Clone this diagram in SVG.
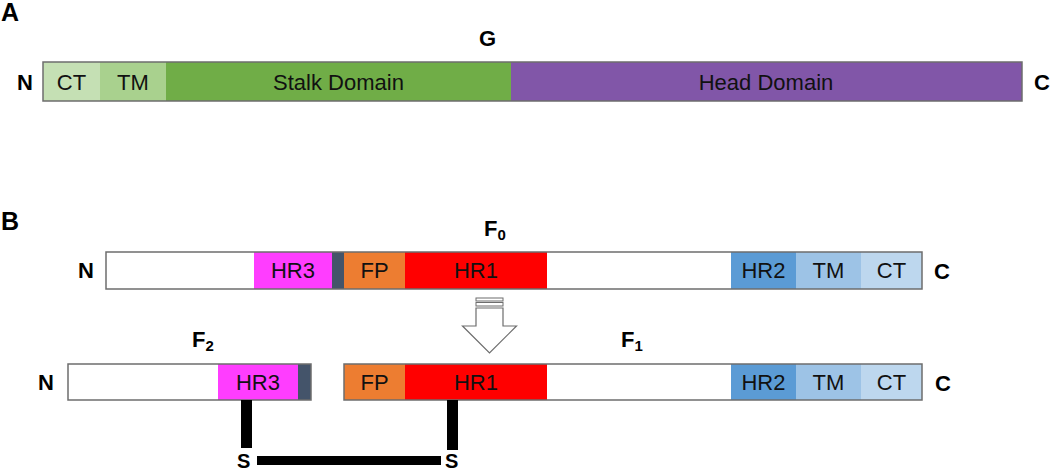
<svg xmlns="http://www.w3.org/2000/svg" width="1050" height="473" viewBox="0 0 1050 473">
<style>
.t{font-family:"Liberation Sans",Arial,sans-serif;font-size:22px;fill:#111;text-anchor:middle}
.b{font-family:"Liberation Sans",Arial,sans-serif;font-weight:bold;font-size:22px;fill:#000}
.p{font-family:"Liberation Sans",Arial,sans-serif;font-weight:bold;font-size:25px;fill:#000}
.s{font-family:"Liberation Sans",Arial,sans-serif;font-weight:bold;font-size:20px;fill:#000}
.sub{font-size:15px}
.out{fill:none;stroke:#6d6d6d;stroke-width:1.5}
.bar{fill:#000}
</style>
<text class="p" x="1" y="21">A</text>
<text class="p" x="1" y="230">B</text>

<g id="G-protein">
<rect x="43" y="62" width="57" height="39" fill="#c5e0b4"/>
<rect x="100" y="62" width="66" height="39" fill="#a9d18e"/>
<rect x="166" y="62" width="345" height="39" fill="#70ad47"/>
<rect x="511" y="62" width="511" height="39" fill="#8156a8"/>
<rect class="out" x="43" y="62" width="979" height="39"/>
<text class="t" x="71.5" y="90">CT</text>
<text class="t" x="133" y="90">TM</text>
<text class="t" x="338.5" y="90">Stalk Domain</text>
<text class="t" x="766" y="90">Head Domain</text>
<text class="b" x="17" y="90">N</text>
<text class="b" x="1034" y="90">C</text>
<text class="b" x="479" y="46">G</text>
</g>

<g id="F0">
<rect x="106" y="252" width="816" height="37" fill="#fff"/>
<rect x="254" y="252" width="78" height="37" fill="#ff3dff"/>
<rect x="332" y="252" width="12" height="37" fill="#44546a"/>
<rect x="344" y="252" width="61" height="37" fill="#ed7d31"/>
<rect x="405" y="252" width="142" height="37" fill="#ff0000"/>
<rect x="731" y="252" width="65" height="37" fill="#5b9bd5"/>
<rect x="796" y="252" width="65" height="37" fill="#9dc3e6"/>
<rect x="861" y="252" width="61" height="37" fill="#bdd7ee"/>
<rect class="out" x="106" y="252" width="816" height="37"/>
<text class="t" x="293" y="278">HR3</text>
<text class="t" x="374.5" y="278">FP</text>
<text class="t" x="476" y="278">HR1</text>
<text class="t" x="763.5" y="278">HR2</text>
<text class="t" x="828.5" y="278">TM</text>
<text class="t" x="891.5" y="278">CT</text>
<text class="b" x="78" y="278">N</text>
<text class="b" x="934" y="279">C</text>
<text class="b" x="484" y="236">F<tspan class="sub" dy="4">0</tspan></text>
</g>

<g id="cleavage-arrow">
<rect x="476" y="298" width="27" height="3" fill="#fff" stroke="#6d6d6d" stroke-width="1"/>
<rect x="476" y="302.5" width="27" height="3.5" fill="#fff" stroke="#6d6d6d" stroke-width="1"/>
<path d="M476,308 H503 V326 H516.5 L489.5,353 L462.5,326 H476 Z" fill="#fff" stroke="#6d6d6d" stroke-width="1.2"/>
</g>

<g id="F2">
<rect x="68" y="364" width="243" height="36" fill="#fff"/>
<rect x="218" y="364" width="80" height="36" fill="#ff3dff"/>
<rect x="298" y="364" width="13" height="36" fill="#44546a"/>
<rect class="out" x="68" y="364" width="243" height="36"/>
<text class="t" x="258" y="390">HR3</text>
<text class="b" x="38" y="390">N</text>
<text class="b" x="192" y="347">F<tspan class="sub" dy="4">2</tspan></text>
</g>

<g id="F1">
<rect x="344" y="364" width="578" height="36" fill="#fff"/>
<rect x="344" y="364" width="61" height="36" fill="#ed7d31"/>
<rect x="405" y="364" width="142" height="36" fill="#ff0000"/>
<rect x="731" y="364" width="65" height="36" fill="#5b9bd5"/>
<rect x="796" y="364" width="65" height="36" fill="#9dc3e6"/>
<rect x="861" y="364" width="61" height="36" fill="#bdd7ee"/>
<rect class="out" x="344" y="364" width="578" height="36"/>
<text class="t" x="374.5" y="390">FP</text>
<text class="t" x="476" y="390">HR1</text>
<text class="t" x="763.5" y="390">HR2</text>
<text class="t" x="828.5" y="390">TM</text>
<text class="t" x="891.5" y="390">CT</text>
<text class="b" x="935" y="391">C</text>
<text class="b" x="621" y="347">F<tspan class="sub" dy="4">1</tspan></text>
</g>

<g id="connectors">
<rect class="bar" x="241" y="400" width="11" height="48"/>
<rect class="bar" x="447" y="400" width="11" height="50"/>
<rect class="bar" x="257" y="456" width="184" height="9"/>
<text class="s" x="237" y="468">S</text>
<text class="s" x="445" y="468">S</text>
</g>
</svg>
